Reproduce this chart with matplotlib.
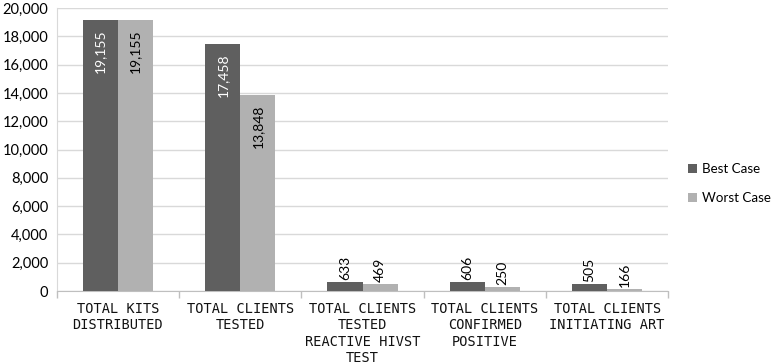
import numpy as np
import matplotlib
matplotlib.use("Agg")
from matplotlib import pyplot as plt

categories = ["TOTAL KITS\nDISTRIBUTED", "TOTAL CLIENTS\nTESTED",
              "TOTAL CLIENTS\nTESTED\nREACTIVE HIVST\nTEST",
              "TOTAL CLIENTS\nCONFIRMED\nPOSITIVE", "TOTAL CLIENTS\nINITIATING ART"]
best_case = [19155, 17458, 633, 606, 505]
worst_case = [19155, 13848, 469, 250, 166]
series_names = ["Best Case", "Worst Case"]

plt.rcParams['font.family'] = ['Lato', 'DejaVu Sans']

fig = plt.figure(figsize=(7.78, 3.64), dpi=100)
ax = fig.add_axes([0.073, 0.2005, 0.786, 0.7775])

x = np.arange(len(categories))
w = 0.287
dark = "#5f5f5f"
light = "#b1b1b1"
b1 = ax.bar(x - w / 2, best_case, w, color=dark, label=series_names[0], zorder=3)
b2 = ax.bar(x + w / 2, worst_case, w, color=light, label=series_names[1], zorder=3)

for bars, vals, inner_col in [(b1, best_case, "white"), (b2, worst_case, "black")]:
    for rect, v in zip(bars, vals):
        cx = rect.get_x() + rect.get_width() / 2
        if v > 5000:
            ax.text(cx, v - 650, f"{v:,}", rotation=90, ha="center", va="top",
                    color=inner_col, fontsize=10)
        else:
            ax.text(cx, v + 150, f"{v:,}", rotation=90, ha="center", va="bottom",
                    color="black", fontsize=10)

ax.set_xlim(-0.5, len(categories) - 0.5)
ax.set_ylim(0, 20000)
ax.set_yticks(np.arange(0, 20001, 2000))
ax.set_yticklabels([f"{v:,}" for v in range(0, 20001, 2000)], fontsize=10.5)
ax.yaxis.grid(True, color="#d9d9d9", linewidth=1, zorder=0)
ax.tick_params(axis="y", length=0, pad=6)

ax.set_xticks(x)
ax.set_xticklabels(categories, fontsize=9.8, linespacing=1.2,
                   family="DejaVu Sans Mono", color="#111111")
ax.tick_params(axis="x", length=0, pad=8)
ax.set_xticks(np.arange(-0.5, len(categories)), minor=True)
ax.tick_params(axis="x", which="minor", length=5, color="#bfbfbf", width=1)

for s in ["top", "right"]:
    ax.spines[s].set_visible(False)
ax.spines["left"].set_color("#d9d9d9")
ax.spines["bottom"].set_color("#bfbfbf")

leg = fig.legend(handles=[b1, b2], labels=series_names, loc="center left",
                 bbox_to_anchor=(0.872, 0.495), frameon=False, fontsize=9.6,
                 handlelength=0.7, handleheight=0.7, labelspacing=1.3,
                 handletextpad=0.4, borderpad=0.2)

fig.savefig("out.png", dpi=100)
